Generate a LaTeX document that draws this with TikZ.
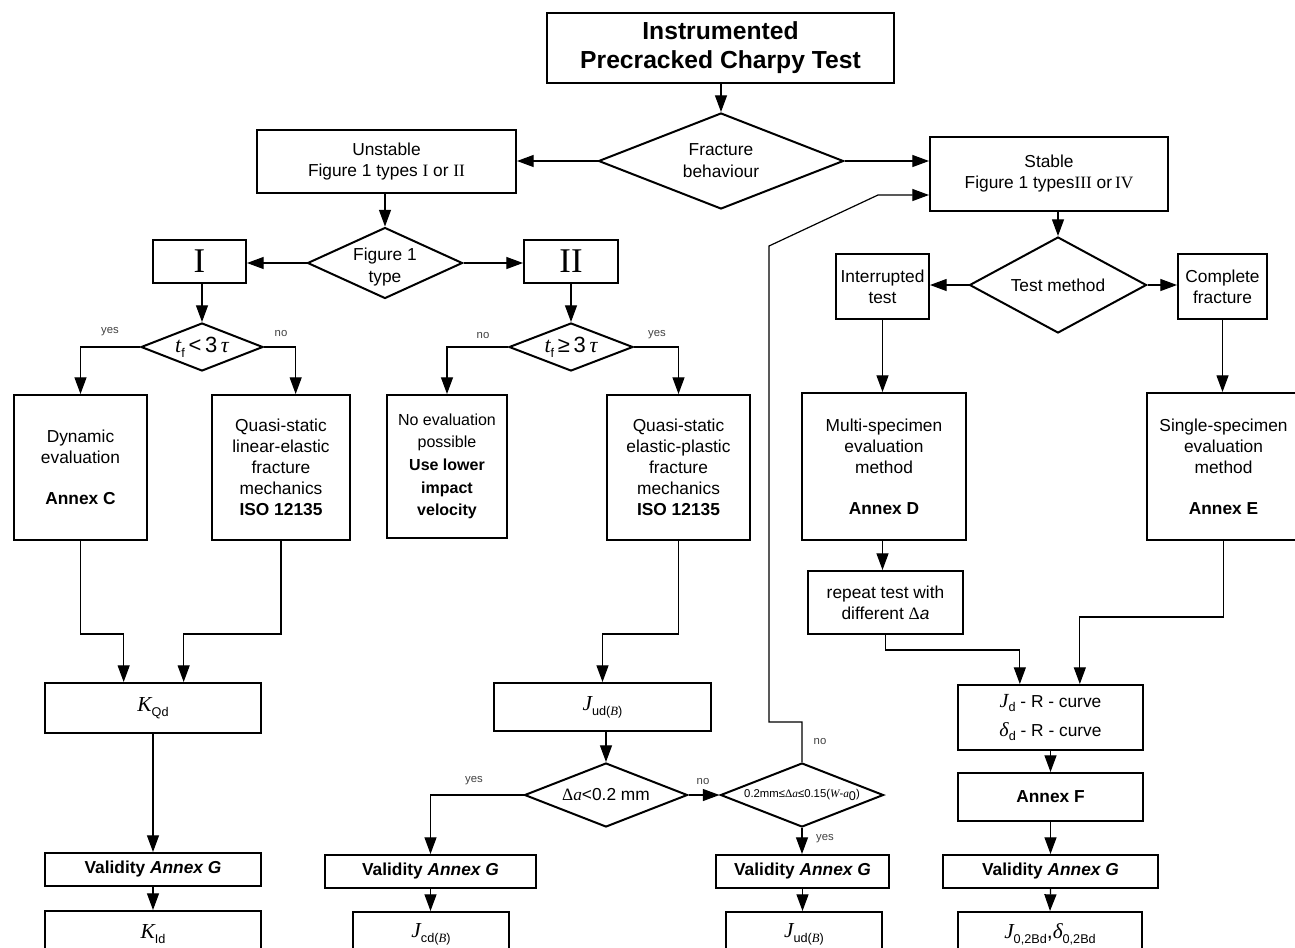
\documentclass[tikz,border=0pt]{standalone}
\usepackage{fontspec}
\setmainfont{Liberation Sans}
\newfontfamily\tms{Liberation Serif}
\usetikzlibrary{shapes.geometric,arrows.meta}
\newcommand\vr[1]{{\tms\itshape #1}}
\newcommand\sbs[1]{\raisebox{-0.45ex}{\fontsize{9.5}{10}\selectfont #1}}
\newcommand\bx[7][]{\node[box,minimum width={(#5-#3)*0.75pt},minimum height={(#6-#4)*0.75pt},#1] (#2) at ({(#3+#5)/2},{(#4+#6)/2}) {#7};}
\newcommand\dm[7][]{\node[dia,minimum width={#5*0.75pt},minimum height={#6*0.75pt},label={[dtext,#1]center:#7}] (#2) at (#3,#4) {};}
\tikzset{
  box/.style={draw,line width=1.5pt,inner sep=0pt,align=center,font=\fontsize{13}{15.75}\selectfont},
  dia/.style={draw,diamond,line width=1.5pt,inner sep=0pt},
  dtext/.style={align=center,inner sep=0pt,font=\fontsize{13}{16.5}\selectfont},
  con/.style={line width=0.9pt,-{Triangle[length=12.5pt,width=9pt]}},
  lab/.style={font=\fontsize{8.5}{10}\selectfont,text=black!75,inner sep=0pt},
}
\begin{document}
\begin{tikzpicture}[x=0.75pt,y=-0.75pt]
\useasboundingbox (0,0) rectangle (1295,947);
% --- top
\bx[line width=2.2pt,font=\fontsize{18.5}{21.75}\selectfont\bfseries]{title}{547}{13}{894}{83}{Instrumented\\Precracked Charpy Test}
\dm{dF}{721}{161}{245}{96}{Fracture\\behaviour}
\bx{unst}{257}{130}{516}{193}{Unstable\\Figure 1 types {\tms I} or {\tms II}}
\bx{stab}{930}{137}{1168}{211}{Stable\\Figure 1 types{\tms III} or{\tms\,IV}}
% --- left / middle
\dm[yshift=-3pt]{dFT}{385}{263}{155}{71}{Figure 1\\type}
\bx[font=\fontsize{26}{28}\selectfont\tms]{bI}{153}{240}{246}{283}{I}
\bx[font=\fontsize{26}{28}\selectfont\tms]{bII}{524}{240}{618}{283}{II}
\dm[font=\fontsize{16.5}{18}\selectfont]{dA}{202}{347}{122}{48}{\vr{t}\sbs{f}\,<\,3\,\vr{τ}}
\dm[font=\fontsize{16.5}{18}\selectfont]{dB}{571}{347}{124}{48}{\vr{t}\sbs{f}\,≥\,3\,\vr{τ}}
\bx{dyn}{14}{395}{147}{540}{Dynamic\\evaluation\\[15pt]\textbf{Annex C}}
\bx{qle}{212}{395}{350}{540}{Quasi-static\\linear-elastic\\fracture\\mechanics\\\textbf{ISO 12135}}
\bx[font=\fontsize{12}{17}\selectfont]{noev}{387}{395}{507}{538}{No evaluation\\possible\\\textbf{Use lower}\\\textbf{impact}\\\textbf{velocity}}
\bx{qep}{607}{395}{750}{540}{Quasi-static\\elastic-plastic\\fracture\\mechanics\\\textbf{ISO 12135}}
\bx[font=\fontsize{16}{18}\selectfont]{kqd}{45}{683}{261}{733}{\vr{K}\sbs{Qd}}
\bx{val1}{45}{853}{261}{886}{\textbf{Validity \textit{Annex G}}}
\bx[font=\fontsize{16}{18}\selectfont]{kid}{45}{911}{261}{957}{\vr{K}\sbs{Id}}
\bx[font=\fontsize{16}{18}\selectfont]{jud}{494}{683}{711}{731}{\vr{J}\sbs{ud(\vr{B})}}
\dm{dC}{606}{795}{163}{64}{{\tms Δ}\vr{a}<0.2 mm}
\dm[font=\fontsize{8.5}{10}\selectfont]{dD}{802}{795}{163}{64}{0.2mm≤{\tms Δ}\vr{a}≤0.15(\vr{W}-\vr{a}\sbs{0})}
\bx{val2}{325}{855}{536}{888}{\textbf{Validity \textit{Annex G}}}
\bx[font=\fontsize{16}{18}\selectfont]{jcd}{353}{912}{509}{957}{\vr{J}\sbs{cd(\vr{B})}}
\bx{val3}{716}{855}{889}{888}{\textbf{Validity \textit{Annex G}}}
\bx[font=\fontsize{16}{18}\selectfont]{jud2}{726}{912}{882}{957}{\vr{J}\sbs{ud(\vr{B})}}
% --- right
\dm{dT}{1058}{285}{177}{96}{Test method}
\bx{intr}{836}{254}{929}{319}{Interrupted\\test}
\bx{comp}{1178}{254}{1267}{319}{Complete\\fracture}
\bx{multi}{802}{393}{966}{540}{Multi-specimen\\evaluation\\method\\[15pt]\textbf{Annex D}}
\bx{single}{1147}{393}{1300}{540}{Single-specimen\\evaluation\\method\\[15pt]\textbf{Annex E}}
\bx{rep}{808}{571}{963}{634}{repeat test with\\different {\tms Δ}\textit{a}}
\bx[font=\fontsize{13}{22}\selectfont]{rc}{958}{685}{1143}{750}{{\fontsize{15}{16}\selectfont\vr{J}}\sbs{d} - R - curve\\{\fontsize{15}{16}\selectfont\vr{δ}}\sbs{d} - R - curve}
\bx{annf}{958}{773}{1143}{821}{\textbf{Annex F}}
\bx{val4}{943}{855}{1158}{888}{\textbf{Validity \textit{Annex G}}}
\bx[font=\fontsize{16}{18}\selectfont]{j02}{958}{912}{1142}{957}{\vr{J}\sbs{0,2Bd},\vr{δ}\sbs{0,2Bd}}
% --- helper coordinates
\coordinate (j1) at (0,634);
\coordinate (j2) at (0,650);
\coordinate (j3) at (0,617);
\coordinate (r1) at (769,722);
\coordinate (r2) at (769,246);
\coordinate (r3) at (878,195);
% --- connectors
\draw[con] (dF.north |- title.south) -- (dF.north);
\draw[con] (dF.west) -- (dF.west -| unst.east);
\draw[con] (dF.east) -- (dF.east -| stab.west);
\draw[con] (dFT.north |- unst.south) -- (dFT.north);
\draw[con] (dFT.west) -- (dFT.west -| bI.east);
\draw[con] (dFT.east) -- (dFT.east -| bII.west);
\draw[con] (dA.north |- bI.south) -- (dA.north);
\draw[con] (dB.north |- bII.south) -- (dB.north);
\draw[con] (dA.west) -| (dyn.north);
\draw[con] (dA.east) -| ([xshift=11pt]qle.north);
\draw[con] (dB.west) -| (noev.north);
\draw[con] (dB.east) -| (qep.north);
\draw[con] (dyn.south) -- (dyn.south |- j1) -| ([xshift=-22pt]kqd.north);
\draw[con] (qle.south) -- (qle.south |- j1) -| ([xshift=23pt]kqd.north);
\draw[con] (kqd.south) -- (val1.north);
\draw[con] (val1.south) -- (kid.north);
\draw[con] (qep.south) -- (qep.south |- j1) -| (jud.north);
\draw[con] (dC.north |- jud.south) -- (dC.north);
\draw[con] (dC.west) -| (val2.north);
\draw[con] (dC.east) -- (dD.west);
\draw[con] (dD.south) -- (dD.south |- val3.north);
\draw[con] (val2.south) -- (val2.south |- jcd.north);
\draw[con] (val3.south) -- (val3.south |- jud2.north);
\draw[con] (dD.north) |- (r1) -- (r2) -- (r3) -- (r3 -| stab.west);
\draw[con] (dT.north |- stab.south) -- (dT.north);
\draw[con] (dT.west) -- (dT.west -| intr.east);
\draw[con] (dT.east) -- (dT.east -| comp.west);
\draw[con] (intr.south) -- (intr.south |- multi.north);
\draw[con] (comp.south) -- (comp.south |- single.north);
\draw[con] (intr.south |- multi.south) -- (intr.south |- rep.north);
\draw[con] (rep.south) -- (rep.south |- j2) -| ([xshift=-23pt]rc.north);
\draw[con] (single.south) -- (single.south |- j3) -| ([xshift=22pt]rc.north);
\draw[con] (rc.south) -- (annf.north);
\draw[con] (annf.south) -- (val4.north);
\draw[con] (val4.south) -- (j02.north);
% --- labels
\node[lab] (l1) at (110,332) {yes};
\node[lab] (l2) at (281,333) {no};
\node[lab] (l3) at (483,335) {no};
\node[lab] (l4) at (657,335) {yes};
\node[lab] (l5) at (474,781) {yes};
\node[lab] (l6) at (703,781) {no};
\node[lab] (l7) at (825,839) {yes};
\node[lab] (l8) at (820,741) {no};
\end{tikzpicture}
\end{document}
